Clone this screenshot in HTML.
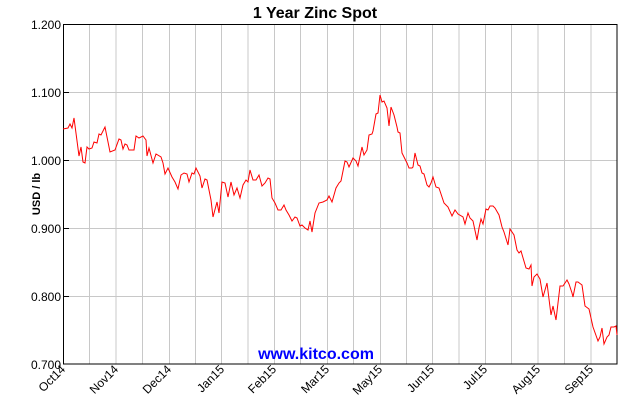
<!DOCTYPE html>
<html><head><meta charset="utf-8"><style>
body{margin:0;background:#fff;}
svg{display:block;font-family:"Liberation Sans",Arial,sans-serif;}
</style></head><body>
<svg width="630" height="400" viewBox="0 0 630 400" xmlns="http://www.w3.org/2000/svg">
<rect width="630" height="400" fill="#fff"/>
<text x="315" y="18" text-anchor="middle" font-size="16" font-weight="bold" fill="#000">1 Year Zinc Spot</text>
<g stroke="#c8c8c8" stroke-width="1">
<line x1="63" y1="92.5" x2="617" y2="92.5"/><line x1="63" y1="160.5" x2="617" y2="160.5"/>
<line x1="63" y1="228.5" x2="617" y2="228.5"/><line x1="63" y1="296.5" x2="617" y2="296.5"/>
<line x1="89.5" y1="24" x2="89.5" y2="364"/><line x1="116" y1="24" x2="116" y2="364"/>
<line x1="142.5" y1="24" x2="142.5" y2="364"/><line x1="169.5" y1="24" x2="169.5" y2="364"/>
<line x1="195.5" y1="24" x2="195.5" y2="364"/><line x1="221.5" y1="24" x2="221.5" y2="364"/>
<line x1="248" y1="24" x2="248" y2="364"/><line x1="274.5" y1="24" x2="274.5" y2="364"/>
<line x1="300.5" y1="24" x2="300.5" y2="364"/><line x1="327.5" y1="24" x2="327.5" y2="364"/>
<line x1="353.5" y1="24" x2="353.5" y2="364"/><line x1="380.5" y1="24" x2="380.5" y2="364"/>
<line x1="406.5" y1="24" x2="406.5" y2="364"/><line x1="432.5" y1="24" x2="432.5" y2="364"/>
<line x1="459" y1="24" x2="459" y2="364"/><line x1="485.5" y1="24" x2="485.5" y2="364"/>
<line x1="511.5" y1="24" x2="511.5" y2="364"/><line x1="538" y1="24" x2="538" y2="364"/>
<line x1="564.5" y1="24" x2="564.5" y2="364"/><line x1="591" y1="24" x2="591" y2="364"/>
</g>
<rect x="63.5" y="24.5" width="553.5" height="339.5" fill="none" stroke="#000" stroke-width="1"/>
<g stroke="#000"><line x1="63" y1="24.5" x2="69" y2="24.5"/><line x1="63" y1="92.5" x2="69" y2="92.5"/><line x1="63" y1="160.5" x2="69" y2="160.5"/><line x1="63" y1="228.5" x2="69" y2="228.5"/><line x1="63" y1="296.5" x2="69" y2="296.5"/></g>
<g font-size="12" text-anchor="end" fill="#000">
<text x="61" y="29">1.200</text><text x="61" y="97">1.100</text><text x="61" y="165">1.000</text>
<text x="61" y="233">0.900</text><text x="61" y="301">0.800</text><text x="61" y="369">0.700</text>
</g>
<text transform="translate(40,194) rotate(-90)" text-anchor="middle" font-size="11" font-weight="bold">USD / lb</text>
<g font-size="12" text-anchor="end" fill="#000">
<text transform="translate(66,370) rotate(-45)">Oct14</text>
<text transform="translate(119,370) rotate(-45)">Nov14</text>
<text transform="translate(172,370) rotate(-45)">Dec14</text>
<text transform="translate(225,370) rotate(-45)">Jan15</text>
<text transform="translate(277,370) rotate(-45)">Feb15</text>
<text transform="translate(330,370) rotate(-45)">Mar15</text>
<text transform="translate(383,370) rotate(-45)">May15</text>
<text transform="translate(435,370) rotate(-45)">Jun15</text>
<text transform="translate(488,370) rotate(-45)">Jul15</text>
<text transform="translate(541,370) rotate(-45)">Aug15</text>
<text transform="translate(594,370) rotate(-45)">Sep15</text>
</g>
<text x="316" y="359" text-anchor="middle" font-size="16" font-weight="bold" fill="#0000ff">www.kitco.com</text>
<polyline fill="none" stroke="#ff0000" stroke-width="1" points="63,129 68,128 70,124 72,128 74,118 79,156 81,147 83,162 85,163 87,147 89,149 92,148 94,142 97,143 99,134 101,135 105,127 110,152 115,150 119,139 121,140 123,149 125,144 127,145 129,150 134,150 136,136 139,138 143,136 146,140 147,156 149,148 153,163 156,154 161,157 163,163 165,174 168,168 172,177 175,182 178,189 181,175 184,173 187,174 189,182 192,173 194,174 196,168 200,176 202,188 205,179 207,180 211,200 213,217 217,202 219,213 222,182 225,183 228,197 231,182 234,195 237,188 240,198 243,185 246,180 248,182 250,170 253,180 256,180 259,175 262,186 265,183 268,178 270,179 272,198 275,203 278,210 281,210 284,205 286,210 289,215 292,221 295,217 297,218 300,226 302,225 305,228 308,230 310,221 312,232 315,213 319,203 323,202 327,200 329,196 332,202 336,188 339,183 341,181 345,161 347,162 349,167 353,158 356,161 358,166 362,147 364,155 367,150 369,135 372,134 373,131 376,114 378,113 380,95 382,102 384,101 387,108 389,126 391,107 394,115 397,127 398,132 400,133 402,153 407,163 409,168 412,168 413,167 415,153 418,165 420,166 422,173 424,174 427,185 429,187 431,183 433,177 436,187 439,188 442,197 444,203 448,207 452,216 455,210 458,214 463,217 465,224 468,213 470,218 473,221 477,240 479,228 481,219 483,224 486,209 488,210 490,206 493,206 495,208 499,215 502,227 504,232 508,245 510,229 514,235 517,250 519,253 521,251 526,268 529,269 531,265 532,286 534,277 537,274 540,279 543,297 545,290 547,283 551,315 553,306 556,320 560,286 563,286 567,280 569,284 572,293 573,297 576,282 578,282 582,285 585,306 589,309 593,327 598,341 600,337 602,328 604,344 607,337 609,335 611,327 614,327 616,326 617,335"/>
</svg>
</body></html>
